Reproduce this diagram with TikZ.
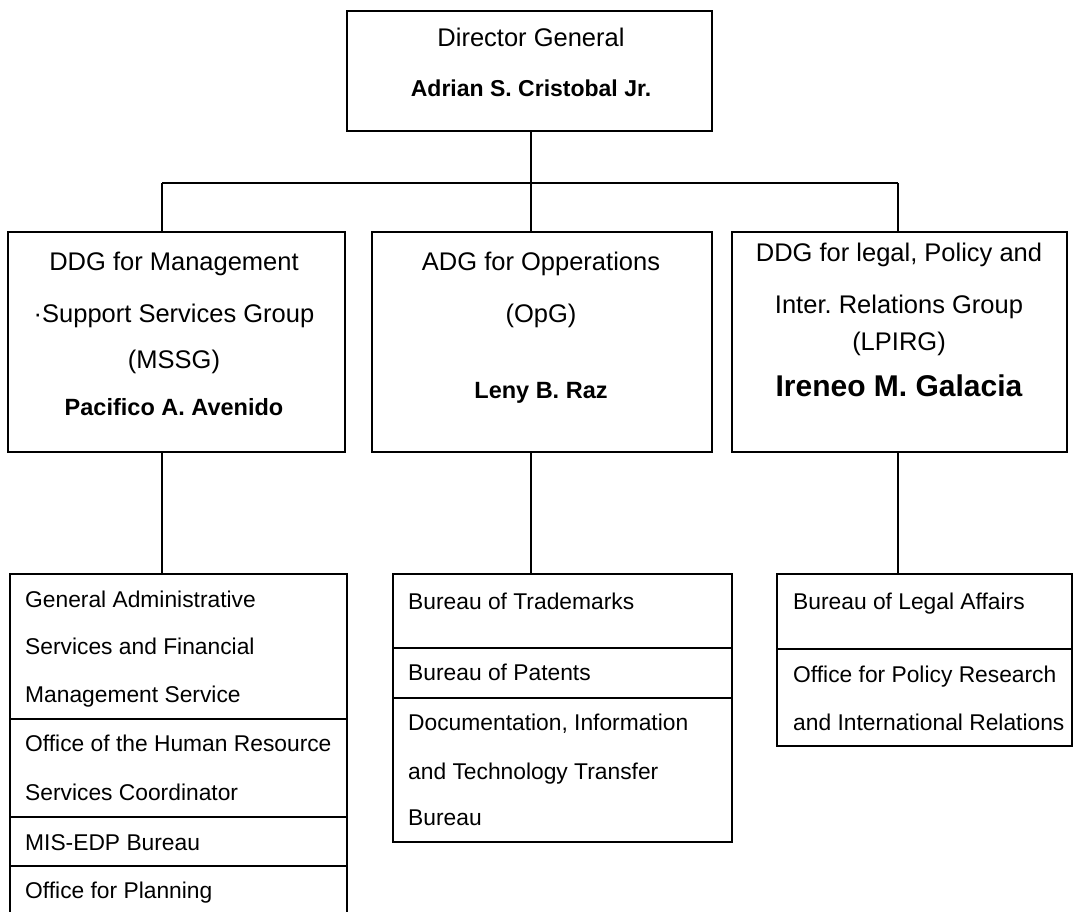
\documentclass[tikz,border=0pt]{standalone}
\usepackage{fontspec}
\setmainfont{Liberation Sans}
\frenchspacing
\begin{document}
\begin{tikzpicture}[x=1pt,y=-1pt,
  box/.style={draw, line width=1.5pt, rectangle, inner sep=0pt, outer sep=0pt},
  frame/.style={rectangle, inner sep=0pt, outer sep=0pt},
  wire/.style={line width=1.5pt},
  ttl/.style={anchor=base, inner sep=0pt, font=\fontsize{25.5}{30}\selectfont},
  nm/.style={anchor=base, inner sep=0pt, font=\fontsize{23.5}{28}\selectfont\bfseries},
  item/.style={anchor=base west, inner sep=0pt, font=\fontsize{22.8}{28}\selectfont},
]
\useasboundingbox (0,0) rectangle (1074,912);

% boxes
\node[box, minimum width=365pt, minimum height=120pt] (dg) at (529.5,71) {};
\node[box, minimum width=337pt, minimum height=220pt] (mssg) at (176.5,342) {};
\node[box, minimum width=340pt, minimum height=220pt] (opg) at (542,342) {};
\node[box, minimum width=335pt, minimum height=220pt] (lpirg) at (899.5,342) {};

\node[frame, minimum width=337pt, minimum height=338pt] (gas) at (178.5,743) {};
\draw[wire] (gas.south west) -- (gas.north west) -- (gas.north east) -- (gas.south east);
\node[box, minimum width=339pt, minimum height=268pt] (bot) at (562.5,708) {};
\node[box, minimum width=295pt, minimum height=172pt] (bla) at (924.5,660) {};

% dividers
\draw[wire] (gas.west |- 0,719) -- (gas.east |- 0,719);
\draw[wire] (gas.west |- 0,817) -- (gas.east |- 0,817);
\draw[wire] (gas.west |- 0,866) -- (gas.east |- 0,866);
\draw[wire] (bot.west |- 0,648) -- (bot.east |- 0,648);
\draw[wire] (bot.west |- 0,698) -- (bot.east |- 0,698);
\draw[wire] (bla.west |- 0,649) -- (bla.east |- 0,649);

% connectors
\coordinate (jL) at (162,183);
\coordinate (jM) at (531,183);
\coordinate (jR) at (898,183);
\draw[wire] (jM |- dg.south) -- (jM);
\draw[wire] (jL) -- (jR);
\draw[wire] (jL) -- (jL |- mssg.north);
\draw[wire] (jM) -- (jM |- opg.north);
\draw[wire] (jR) -- (jR |- lpirg.north);
\draw[wire] (jL |- mssg.south) -- (jL |- gas.north);
\draw[wire] (jM |- opg.south) -- (jM |- bot.north);
\draw[wire] (jR |- lpirg.south) -- (jR |- bla.north);

% top texts
\node[ttl] (t1) at (531,46.6) {Director General};
\node[nm, font=\fontsize{23}{28}\selectfont\bfseries] (t2) at (531,96.5) {Adrian S. Cristobal Jr.};

% middle-level texts
\node[ttl] (l1) at (174,270) {DDG for Management};
\node[ttl] (l2) at (174,323) {·Support Services Group};
\node[ttl] (l3) at (174,368.5) {(MSSG)};
\node[nm] (l4) at (174,415) {Pacifico A. Avenido};

\node[ttl] (m1) at (541,270) {ADG for Opperations};
\node[ttl] (m2) at (541,322) {(OpG)};
\node[nm] (m3) at (541,398.3) {Leny B. Raz};

\node[ttl] (r1) at (899,261.7) {DDG for legal, Policy and};
\node[ttl] (r2) at (899,313.3) {Inter. Relations Group};
\node[ttl] (r3) at (899,350) {(LPIRG)};
\node[nm, font=\fontsize{30}{36}\selectfont\bfseries] (r4) at (899,396.7) {Ireneo M. Galacia};

% lower texts
\node[item] (a1) at (25,607) {General Administrative};
\node[item] (a2) at (25,654.2) {Services and Financial};
\node[item] (a3) at (25,702.2) {Management Service};
\node[item] (a4) at (25,751.2) {Office of the Human Resource};
\node[item] (a5) at (25,800) {Services Coordinator};
\node[item] (a6) at (25,850) {MIS-EDP Bureau};
\node[item] (a7) at (25,898) {Office for Planning};

\node[item] (b1) at (408,609) {Bureau of Trademarks};
\node[item] (b2) at (408,680.7) {Bureau of Patents};
\node[item] (b3) at (408,730.7) {Documentation, Information};
\node[item] (b4) at (408,779.2) {and Technology Transfer};
\node[item] (b5) at (408,825.7) {Bureau};

\node[item] (c1) at (793,609) {Bureau of Legal Affairs};
\node[item] (c2) at (793,682) {Office for Policy Research};
\node[item] (c3) at (793,730.7) {and International Relations};
\end{tikzpicture}
\end{document}
